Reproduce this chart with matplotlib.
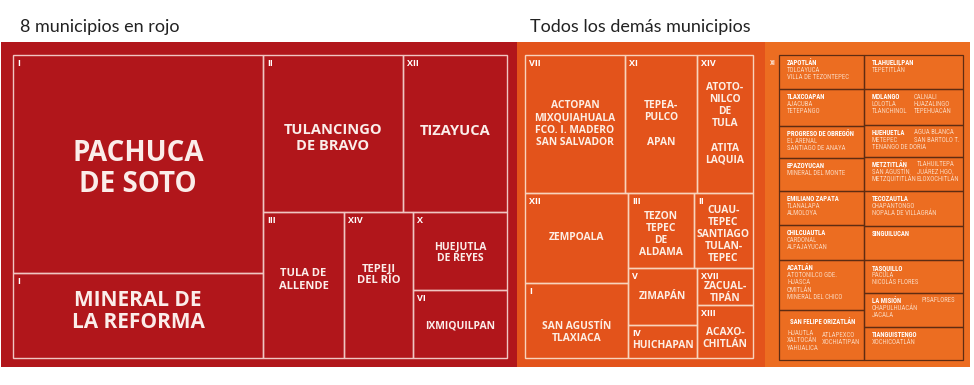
import matplotlib
matplotlib.use("Agg")
import matplotlib.pyplot as plt
from matplotlib import font_manager
from matplotlib.patches import Rectangle

# ---- datos ----
# 8 municipios en rojo
rojo_distritos = ["I", "I", "II", "XII", "III", "XIV", "X", "VI"]
rojo_nombres = ["PACHUCA\nDE SOTO", "MINERAL DE\nLA REFORMA", "TULANCINGO\nDE BRAVO", "TIZAYUCA",
                "TULA DE\nALLENDE", "TEPEJI\nDEL RÍO", "HUEJUTLA\nDE REYES", "IXMIQUILPAN"]
rojo_valores = [545.0, 212.5, 219.8, 163.3, 118.3, 100.7, 73.3, 63.9]

# todos los demas (bloque naranja)
nar_distritos = ["VII", "XI", "XIV", "XII", "I", "III", "II", "V", "IV", "XVII", "XIII"]
nar_nombres = ["ACTOPAN\nMIXQUIAHUALA\nFCO. I. MADERO\nSAN SALVADOR", "TEPEA-\nPULCO\n\nAPAN",
               "ATOTO-\nNILCO\nDE\nTULA\n\nATITA\nLAQUIA", "ZEMPOALA", "SAN AGUSTÍN\nTLAXIACA",
               "TEZON\nTEPEC\nDE\nALDAMA", "CUAU-\nTEPEC\nSANTIAGO\nTULAN-\nTEPEC", "ZIMAPÁN",
               "HUICHAPAN", "ZACUAL-\nTIPÁN", "ACAXO-\nCHITLÁN"]
nar_valores = [138.0, 99.4, 77.3, 92.7, 77.3, 49.5, 44.3, 39.3, 22.8, 20.7, 29.7]

# resto de municipios (bloque claro), columna izquierda y derecha
resto_distrito = "XI"
resto_nombres = ["ZAPOTLÁN\nTOLCAYUCA\nVILLA DE TEZONTEPEC", "TLAXCOAPAN\nAJACUBA\nTETEPANGO",
                 "PROGRESO DE OBREGÓN\nEL ARENAL\nSANTIAGO DE ANAYA", "EPAZOYUCAN\nMINERAL DEL MONTE",
                 "EMILIANO ZAPATA\nTLANALAPA\nALMOLOYA", "CHILCUAUTLA\nCARDONAL\nALFAJAYUCAN",
                 "ACATLÁN\nATOTONILCO GDE.\nHUASCA\nOMITLÁN\nMINERAL DEL CHICO",
                 "SAN FELIPE ORIZATLÁN\nHUAUTLA\nXALTOCÁN\nYAHUALICA",
                 "TLAHUELILPAN\nTEPETITLÁN", "MOLANGO\nLOLOTLA\nTLANCHINOL",
                 "HUEHUETLA\nMETEPEC\nTENANGO DE DORIA", "METZTITLÁN\nSAN AGUSTÍN\nMETZQUITITLÁN",
                 "TECOZAUTLA\nCHAPANTONGO\nNOPALA DE VILLAGRÁN", "SINGUILUCAN",
                 "TASQUILLO\nPACULA\nNICOLÁS FLORES", "LA MISIÓN\nCHAPULHUACÁN\nJACALA",
                 "TIANGUISTENGO\nXOCHICOATLÁN"]
resto_segunda = ["", "", "", "", "", "", "", "\nATLAPEXCO\nXOCHIATIPAN",
                 "", "CALNALI\nHUAZALINGO\nTEPEHUACÁN", "AGUA BLANCA\nSAN BARTOLO T.",
                 "TLAHUILTEPA\nJUÁREZ HGO.\nELOXOCHITLÁN", "", "", "", "PISAFLORES", ""]
resto_valores = [28.9, 31.5, 27.2, 28.1, 28.9, 29.8, 42.5, 42.5,
                 33.7, 35.6, 31.7, 33.7, 34.7, 33.7, 32.7, 33.7, 32.7]

# estructura de cortes (h = columnas, v = filas)
arbol_rojo = ("h", [("v", [0, 1]), ("v", [("h", [2, 3]), ("h", [4, 5, ("v", [6, 7])])])])
arbol_nar = ("v", [("h", [0, 1, 2]),
                   ("h", [("v", [3, 4]), ("v", [("h", [5, 6]), ("h", [("v", [7, 8]), ("v", [9, 10])])])])])
arbol_resto = ("h", [("v", list(range(8))), ("v", list(range(8, 17)))])


def total(nodo, valores):
    if isinstance(nodo, int):
        return valores[nodo]
    return sum(total(n, valores) for n in nodo[1])


def partir(nodo, valores, x0, y0, x1, y1, cajas):
    if isinstance(nodo, int):
        cajas[nodo] = (x0, y0, x1, y1)
        return
    sentido, hijos = nodo
    suma = total(nodo, valores)
    pos = x0 if sentido == "h" else y0
    for h in hijos:
        frac = total(h, valores) / suma
        if sentido == "h":
            paso = (x1 - x0) * frac
            partir(h, valores, pos, y0, pos + paso, y1, cajas)
        else:
            paso = (y1 - y0) * frac
            partir(h, valores, x0, pos, x1, pos + paso, cajas)
        pos += paso
    return cajas


disponibles = {f.name for f in font_manager.fontManager.ttflist}
fuente = next((f for f in ["Open Sans", "Lato", "DejaVu Sans"] if f in disponibles), "DejaVu Sans")
titulo = next((f for f in ["Lato", "DejaVu Sans"] if f in disponibles), "DejaVu Sans")
angosta = next((f for f in ["Roboto Condensed", "Liberation Sans Narrow", "DejaVu Sans Condensed", "DejaVu Sans"]
                if f in disponibles), "DejaVu Sans")

fig = plt.figure(figsize=(9.74, 3.85), dpi=100)
ax = fig.add_axes([0, 0, 1, 1])
ax.set_xlim(0, 974)
ax.set_ylim(385, 0)
ax.axis("off")

ax.text(20, 32, "8 municipios en rojo", fontsize=13, color="#222222", family=titulo)
ax.text(530, 32, "Todos los demás municipios", fontsize=13, color="#222222", family=titulo)

# fondos
ax.add_patch(Rectangle((1, 42), 516, 325, color="#B1161B", lw=0))
ax.add_patch(Rectangle((517, 42), 248, 325, color="#E3531B", lw=0))
ax.add_patch(Rectangle((765, 42), 205, 325, color="#EC6D21", lw=0))

# rojo
cajas = partir(arbol_rojo, rojo_valores, 13, 55, 507, 358, {})
tam_rojo = [20, 15, 10.5, 10.5, 8, 8, 7.5, 7.5]
dy_rojo = [5, -4, 4.5, -2.5, -5, -10, 2, 2]
esp_rojo = [1.12, 1.0, 1.2, 1.0, 1.15, 1.12, 1.0, 1.0]
for i, (x0, y0, x1, y1) in cajas.items():
    ax.add_patch(Rectangle((x0, y0), x1 - x0, y1 - y0, fill=False, ec="#F0C6C2", lw=1.0))
    ax.text(x0 + 4, y0 + 4, rojo_distritos[i], color="white", fontsize=6.5, weight="bold",
            family=fuente, va="top", ha="left")
    ax.text((x0 + x1) / 2, (y0 + y1) / 2 + dy_rojo[i], rojo_nombres[i], color="#FBEDEA",
            fontsize=tam_rojo[i], weight="bold", family=fuente, ha="center", va="center",
            linespacing=esp_rojo[i])

# naranja
cajas = partir(arbol_nar, nar_valores, 525, 55, 753, 358, {})
ajuste = {4: 12, 5: 4, 6: 4, 9: 6, 10: 7, 8: 4}
for i, (x0, y0, x1, y1) in cajas.items():
    ax.add_patch(Rectangle((x0, y0), x1 - x0, y1 - y0, fill=False, ec="#F8D3BC", lw=1.0))
    ax.text(x0 + 4, y0 + 4, nar_distritos[i], color="white", fontsize=6.5, weight="bold",
            family=fuente, va="top", ha="left")
    ax.text((x0 + x1) / 2, (y0 + y1) / 2 + ajuste.get(i, 0), nar_nombres[i], color="#FDEEE4",
            fontsize=7.4, weight="bold", family=fuente, ha="center", va="center", linespacing=1.13)

# resto
cajas = partir(arbol_resto, resto_valores, 779, 55, 963, 360, {})
ax.text(770, 63, resto_distrito, color="#FBE3D2", fontsize=5, weight="bold", family=angosta, va="center")
tam = 4.9
for i, (x0, y0, x1, y1) in cajas.items():
    ax.add_patch(Rectangle((x0, y0), x1 - x0, y1 - y0, fill=False, ec="#5E2C12", lw=0.9))
    lineas = resto_nombres[i].split("\n")
    xt = x0 + 8
    yt = y0 + 8
    if i == 7:
        yt = y0 + 12
    for j, linea in enumerate(lineas):
        extra = 4 if (i == 7 and j > 0) else 0
        ax.text(xt + (3 if i == 7 and j == 0 else 0), yt + j * 7.4 + extra, linea, family=angosta,
                fontsize=tam, color="white" if j == 0 else "#FAD6BC",
                weight="bold" if j == 0 else "normal", va="center", ha="left")
    if resto_segunda[i]:
        dx = {7: 43, 11: 53, 15: 58}.get(i, 50)
        for j, linea in enumerate(resto_segunda[i].split("\n")):
            if not linea:
                continue
            extra = 6 if i == 7 else 0
            ax.text(x0 + dx, yt + j * 7.4 + extra, linea, family=angosta, fontsize=tam,
                    color="#FAD6BC", va="center", ha="left")

fig.savefig("out.png", dpi=100)
